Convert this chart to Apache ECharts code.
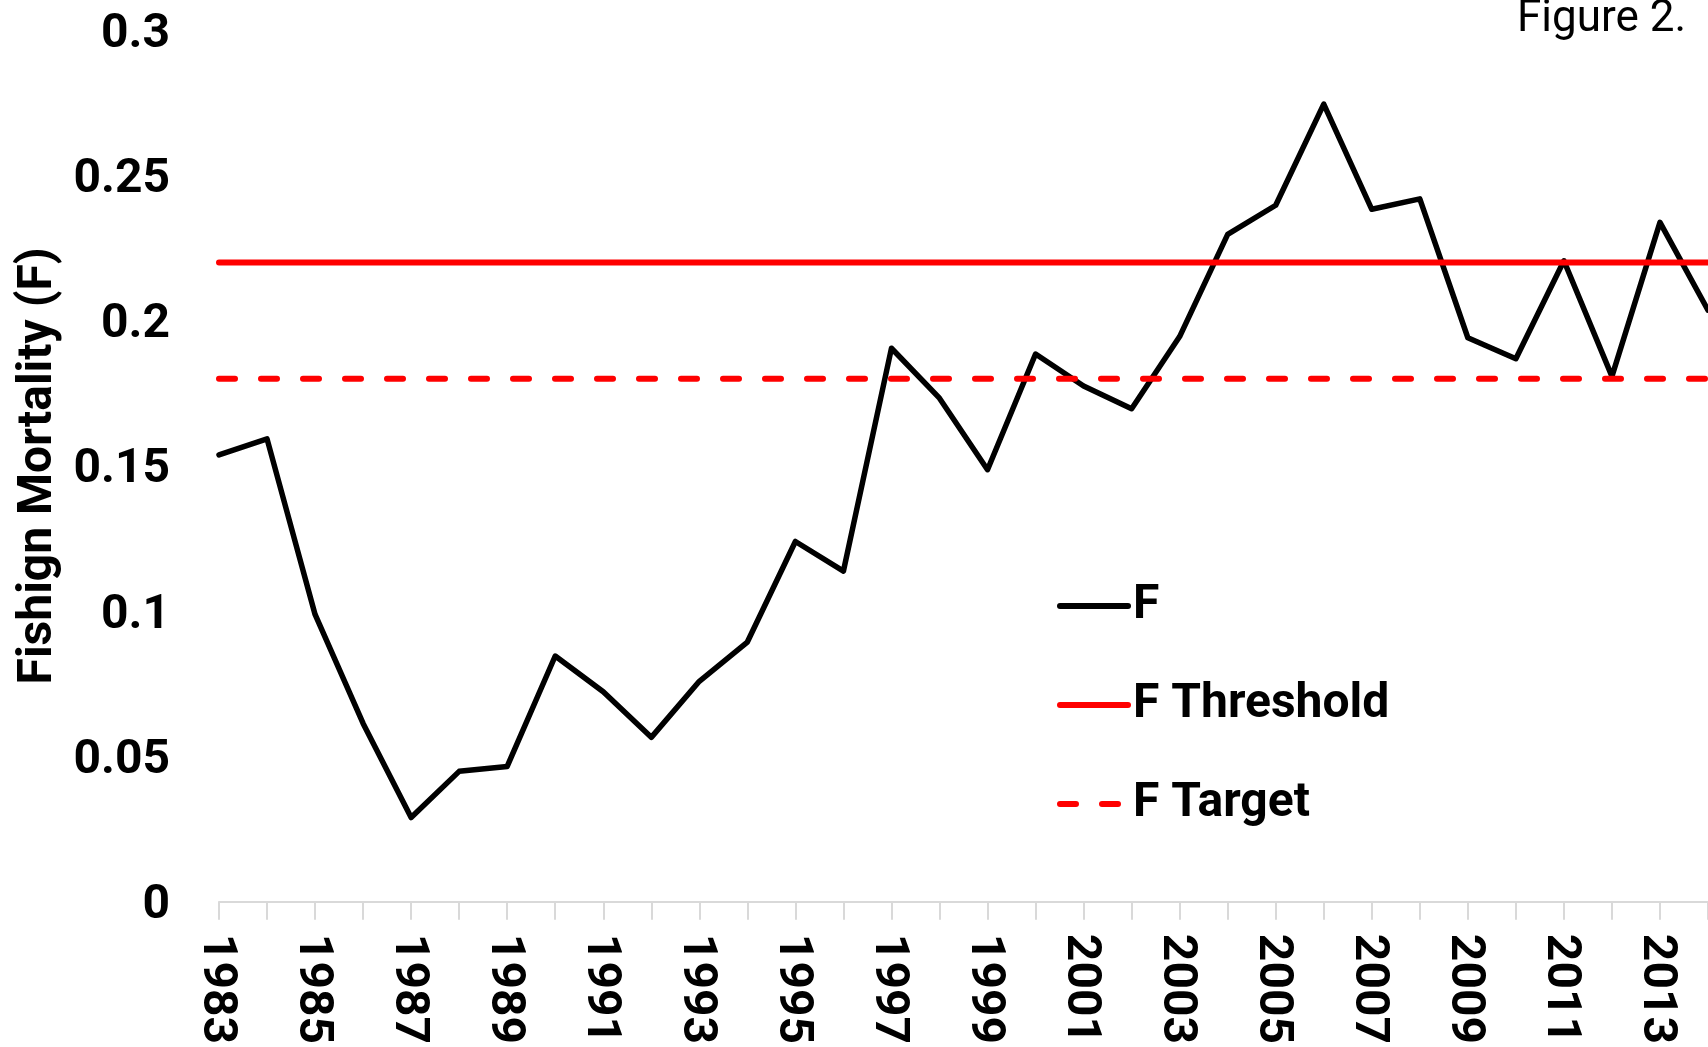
<!DOCTYPE html>
<html>
<head>
<meta charset="utf-8">
<script src="https://cdn.jsdelivr.net/npm/echarts@6/dist/echarts.min.js"></script>
<style>
html, body { margin: 0; padding: 0; background: #ffffff; overflow: hidden; }
#chart { width: 1708px; height: 1047px; }
</style>
</head>
<body>
<div id="chart"></div>
<script>
const years = ['1983','1984','1985','1986','1987','1988','1989','1990','1991','1992',
  '1993','1994','1995','1996','1997','1998','1999','2000','2001','2002',
  '2003','2004','2005','2006','2007','2008','2009','2010','2011','2012','2013','2014'];
const fValues = [0.1538, 0.1593, 0.0989, 0.0614, 0.0290, 0.0449, 0.0466, 0.0846, 0.0723, 0.0566,
  0.0759, 0.0894, 0.1240, 0.1138, 0.1905, 0.1733, 0.1487, 0.1885, 0.1775, 0.1697,
  0.1945, 0.2297, 0.2397, 0.2745, 0.2383, 0.2419, 0.1941, 0.1869, 0.2206, 0.1808, 0.2338, 0.2036];
const fThreshold = [0.22, 0.22, 0.22, 0.22, 0.22, 0.22, 0.22, 0.22, 0.22, 0.22,
  0.22, 0.22, 0.22, 0.22, 0.22, 0.22, 0.22, 0.22, 0.22, 0.22,
  0.22, 0.22, 0.22, 0.22, 0.22, 0.22, 0.22, 0.22, 0.22, 0.22, 0.22, 0.22];
const fTarget = [0.18, 0.18, 0.18, 0.18, 0.18, 0.18, 0.18, 0.18, 0.18, 0.18,
  0.18, 0.18, 0.18, 0.18, 0.18, 0.18, 0.18, 0.18, 0.18, 0.18,
  0.18, 0.18, 0.18, 0.18, 0.18, 0.18, 0.18, 0.18, 0.18, 0.18, 0.18, 0.18];
const yTickLabels = ['0', '0.05', '0.1', '0.15', '0.2', '0.25', '0.3'];
const yAxisTitle = 'Fishign Mortality (F)';
const figureLabel = 'Figure 2.';

const FONT = 'Roboto';
const labelFont = { fontFamily: FONT, fontWeight: 'bold', fontSize: 48, color: '#000000' };
const chart = echarts.init(document.getElementById('chart'), null, { renderer: 'canvas' });
chart.setOption({
  animation: false,
  backgroundColor: '#ffffff',
  grid: { left: 219, right: -4, top: 30, bottom: 145, containLabel: false },
  graphic: [{
    type: 'text',
    left: 1517,
    top: -2,
    style: { text: figureLabel, font: '400 44px Roboto', fill: '#000000' }
  }],
  legend: {
    orient: 'vertical',
    left: 1052,
    top: 576,
    itemWidth: 68,
    itemHeight: 20,
    itemGap: 49,
    itemStyle: { opacity: 0 },
    lineStyle: { width: 6, cap: 'round' },
    textStyle: Object.assign({ lineHeight: 50 }, labelFont),
    data: ['F', 'F Threshold', 'F Target']
  },
  xAxis: {
    type: 'category',
    data: years,
    boundaryGap: false,
    axisLine: { lineStyle: { color: '#d9d9d9', width: 2 } },
    axisTick: { show: true, interval: 0, length: 18, lineStyle: { color: '#d9d9d9', width: 2 } },
    axisLabel: Object.assign({
      interval: 1, rotate: -90, margin: 32,
      formatter: function (v) { return '{t|' + v + '}'; },
      rich: { t: Object.assign({ padding: [7, 0, 0, 0] }, labelFont) }
    }, labelFont),
    splitLine: { show: false }
  },
  yAxis: {
    type: 'value',
    min: 0,
    max: 0.3,
    interval: 0.05,
    name: yAxisTitle,
    nameLocation: 'middle',
    nameGap: 147,
    nameTextStyle: labelFont,
    axisLine: { show: false },
    axisTick: { show: false },
    splitLine: { show: false },
    axisLabel: Object.assign({
      margin: 49,
      formatter: function (v, i) { return '{t|' + yTickLabels[i] + '}'; },
      rich: { t: Object.assign({ padding: [9, 0, 0, 0] }, labelFont) }
    }, labelFont)
  },
  series: [
    {
      name: 'F', type: 'line', data: fValues, symbol: 'none',
      lineStyle: { color: '#000000', width: 5.5, cap: 'round', join: 'round' },
      itemStyle: { color: '#000000' }
    },
    {
      name: 'F Threshold', type: 'line', data: fThreshold, symbol: 'none',
      lineStyle: { color: '#ff0000', width: 6, cap: 'round' },
      itemStyle: { color: '#ff0000' }
    },
    {
      name: 'F Target', type: 'line', data: fTarget, symbol: 'none',
      lineStyle: { color: '#ff0000', width: 6, type: [16, 26], cap: 'round' },
      itemStyle: { color: '#ff0000' }
    }
  ]
});
</script>
</body>
</html>
